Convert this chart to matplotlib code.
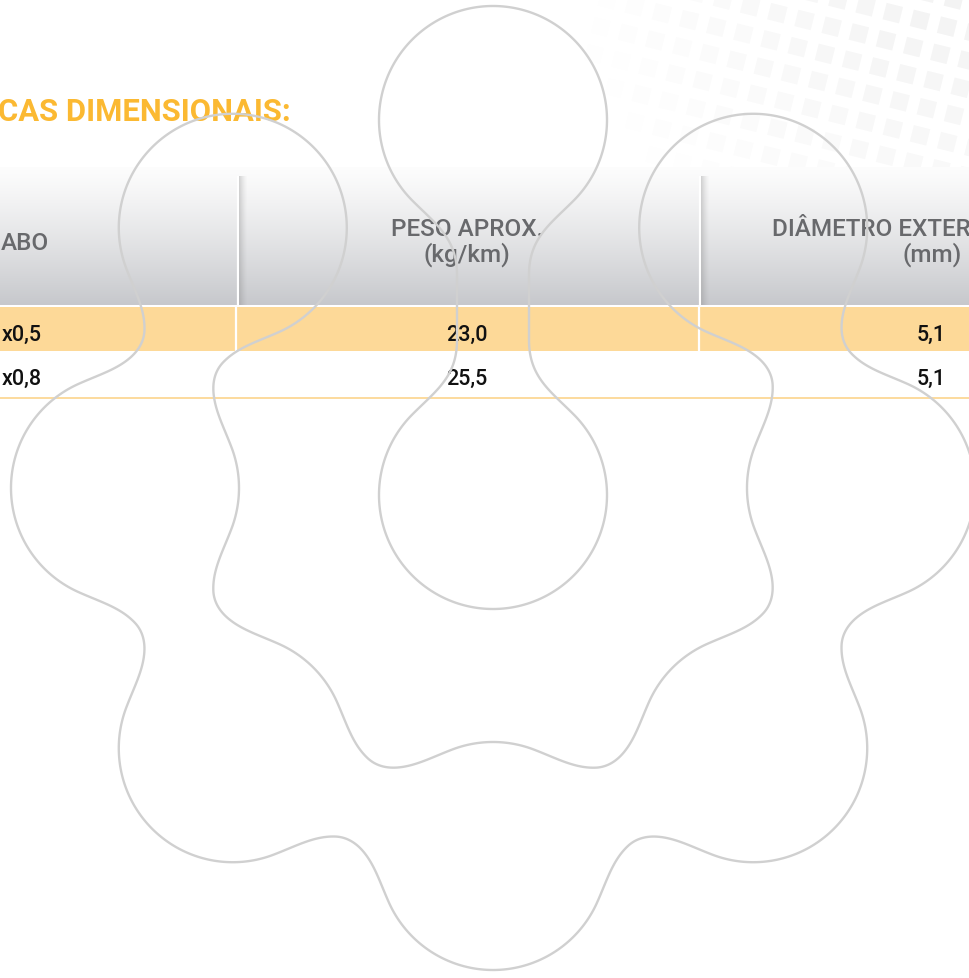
import numpy as np
import matplotlib.pyplot as plt
from matplotlib.markers import MarkerStyle
from matplotlib.transforms import Affine2D

plt.rcParams['font.family'] = ['Roboto', 'DejaVu Sans']

# table content (the picture is cropped at both sides)
title = 'CAS DIMENSIONAIS:'
head_cabo = 'ABO'
head_peso = ['PESO APROX.', '(kg/km)']
head_diam = ['DIÂMETRO EXTER', '(mm)']
cabo = ['x0,5', 'x0,8']
peso = ['23,0', '25,5']
diametro = ['5,1', '5,1']

W, H = 969, 979
fig = plt.figure(figsize=(W / 100, H / 100), dpi=100)
ax = fig.add_axes([0, 0, 1, 1])

# faint square pattern in the top right corner
th = np.deg2rad(14)
ii, jj = np.meshgrid(np.arange(-4, 22), np.arange(-4, 14))
px = 560 + 28 * (ii * np.cos(th) - jj * np.sin(th))
py = -40 + 28 * (ii * np.sin(th) + jj * np.cos(th))
px, py = px.ravel(), py.ravel()
fade = np.clip(1 - np.hypot(W - px, py * 1.3) / 400, 0, 1)
cols = np.zeros((len(px), 4))
cols[:, 3] = 0.05 * fade
sq = MarkerStyle('s', transform=Affine2D().rotate_deg(-14))
ax.scatter(px, py, s=150, marker=sq, c=cols, linewidths=0, zorder=0)

# header band with grey gradient
g = np.linspace(0, 1, 200) ** 1.2
top = np.array([0.99, 0.99, 0.99])
bot = np.array([0.78, 0.785, 0.80])
img = top + (bot - top) * g[:, None, None]
ax.imshow(img, extent=[0, W, 306, 168], aspect='auto', zorder=1, interpolation='bilinear')

# header separators (white line with a soft shadow)
shade = np.zeros((1, 20, 4))
shade[..., :3] = 0.45
shade[..., 3] = np.linspace(0.45, 0, 20) ** 1.5
for sx in [238, 700]:
    ax.plot([sx, sx], [177, 306], color='white', lw=1.6, zorder=2, solid_capstyle='butt')
    ax.imshow(shade, extent=[sx + 1.2, sx + 10, 306, 177], aspect='auto', zorder=2)

# rows
ax.fill_between([0, W], 308, 352, color='#FDD998', lw=0, zorder=1)
for sx in [236, 699]:
    ax.plot([sx, sx], [308, 352], color='white', lw=1.6, zorder=2, solid_capstyle='butt')
ax.plot([0, W], [398.5, 398.5], color='#FCD48C', lw=1.2, zorder=2)

# texts
ax.text(291, 121, title, ha='right', va='baseline', fontsize=22.3, fontweight='bold',
        color='#FBB932', zorder=3)
hc = '#68696c'
hs = 17.5
ax.text(1, 250, head_cabo, ha='left', va='baseline', fontsize=hs, color=hc, fontweight='medium', zorder=3)
ax.text(467, 236, head_peso[0], ha='center', va='baseline', fontsize=hs, color=hc, fontweight='medium', zorder=3)
ax.text(467, 262, head_peso[1], ha='center', va='baseline', fontsize=hs, color=hc, fontweight='medium', zorder=3)
ax.text(772, 236, head_diam[0], ha='left', va='baseline', fontsize=hs, color=hc, fontweight='medium', zorder=3)
ax.text(932, 262, head_diam[1], ha='center', va='baseline', fontsize=hs, color=hc, fontweight='medium', zorder=3)

row_base = [341, 385]
for i in range(len(cabo)):
    ax.text(42, row_base[i], cabo[i], ha='right', va='baseline', fontsize=15.5,
            color='#111111', fontweight='medium', zorder=3)
    ax.text(467, row_base[i], peso[i], ha='center', va='baseline', fontsize=15.5,
            color='#111111', fontweight='medium', zorder=3)
    ax.text(931, row_base[i], diametro[i], ha='center', va='baseline', fontsize=15.5,
            color='#111111', fontweight='medium', zorder=3)

# decorative outline: a ring of lobes plus a dumbbell in the middle
xs = np.arange(-160, 1140, 1.5)
ys = np.arange(-20, 1000, 1.5)
X, Y = np.meshgrid(xs, ys)


def disk(cx, cy, r):
    return np.hypot(X - cx, Y - cy) - r


def capsule(ax_, ay_, bx_, by_, w):
    dx, dy = bx_ - ax_, by_ - ay_
    t = np.clip(((X - ax_) * dx + (Y - ay_) * dy) / (dx * dx + dy * dy), 0, 1)
    return np.hypot(X - ax_ - t * dx, Y - ay_ - t * dy) - w


def smin(a, b, k):
    h = np.clip(0.5 + 0.5 * (b - a) / k, 0, 1)
    return b * (1 - h) + a * h - k * h * (1 - h)


r = 114
cx0, cy0, R = 493, 489, 368
ang = np.deg2rad([135, 180, 225, 270, 315, 360, 405])
lx = cx0 + R * np.cos(ang)
ly = cy0 - R * np.sin(ang)
ring = disk(lx[0], ly[0], r)
for k in range(1, len(ang)):
    ring = smin(ring, capsule(lx[k - 1], ly[k - 1], lx[k], ly[k], 38), 45)
    ring = smin(ring, disk(lx[k], ly[k], r), 45)

dumb = smin(disk(493, 121, r), capsule(493, 121, 493, 496, 36), 45)
dumb = smin(dumb, disk(493, 496, r), 45)

F = np.minimum(ring, dumb)
ax.contour(X, Y, F, levels=[0], colors='#d0d0d0', linewidths=1.7, zorder=5)

ax.set_xlim(0, W)
ax.set_ylim(H, 0)
ax.axis('off')
fig.savefig('out.png', dpi=100, facecolor='white')
